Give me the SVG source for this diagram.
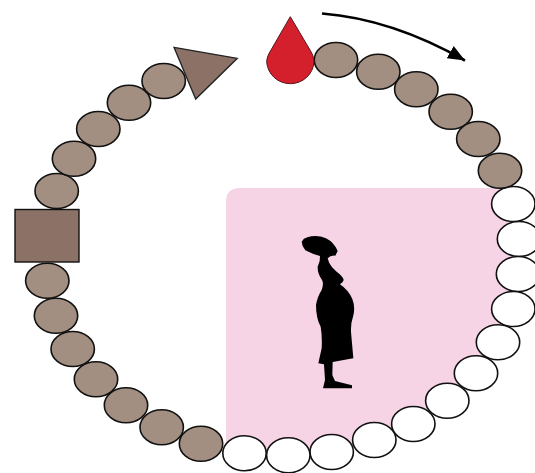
<svg xmlns="http://www.w3.org/2000/svg" width="535" height="473" viewBox="0 0 535 473">
<style>
.b{fill:#a38f81;stroke:#111;stroke-width:1.6}
.w{fill:#fff;stroke:#111;stroke-width:1.6}
</style>
<defs>
<ellipse id="e" rx="21.7" ry="17.5"/>
<marker id="ah" markerUnits="userSpaceOnUse" markerWidth="20" markerHeight="16" refX="17" refY="7" orient="auto"><path d="M0 0L17 7L0 14Z" fill="#000"/></marker>
</defs>
<rect width="535" height="473" fill="#fff"/>
<path id="panel" d="M226 202Q226 188 240 188H505L518 240L514 310L476 373L413 424L331 452L226 454Z" fill="#f7d3e6"/>
<g id="figure"><path transform="translate(280 225) scale(.3333)" fill="#000" d="M65 50Q70 40 82 37Q110 28 138 40Q162 52 173 78L166 92Q152 90 143 100L147 112Q152 125 170 140Q190 155 191 165Q190 172 180 178Q205 195 217 222Q227 248 219 275Q212 295 213 320L220 400L158 411L157 450L165 468L216 481V490H129L135 465L132 418L115 415L125 370Q127 335 122 305Q108 280 108 240Q112 215 125 195Q132 175 126 165Q112 145 113 125L119 108L120 93Q98 88 76 76Q66 65 65 50Z"/></g>
<g id="connectors">
<path id="direction-arrow" d="M322 13.5Q392 19 465 60.5" fill="none" stroke="#000" stroke-width="2.6" marker-end="url(#ah)"/>
</g>
<g id="beads-white">
<use href="#e" class="w" x="513.3" y="204"/>
<use href="#e" class="w" x="519" y="239"/>
<use href="#e" class="w" x="518" y="274"/>
<use href="#e" class="w" x="513.3" y="309"/>
<use href="#e" class="w" x="498" y="342.3"/>
<use href="#e" class="w" x="476" y="373.3"/>
<use href="#e" class="w" x="447.3" y="400.7"/>
<use href="#e" class="w" x="413.3" y="424"/>
<use href="#e" class="w" x="374.3" y="440"/>
<use href="#e" class="w" x="331.7" y="452"/>
<use href="#e" class="w" x="288.3" y="455.3"/>
<use href="#e" class="w" x="244.5" y="453.3"/>
</g>
<g id="beads-brown">
<use href="#e" class="b" x="336" y="60"/>
<use href="#e" class="b" x="378.3" y="71.7"/>
<use href="#e" class="b" x="416.3" y="89.3"/>
<use href="#e" class="b" x="450.7" y="111.7"/>
<use href="#e" class="b" x="478.3" y="139"/>
<use href="#e" class="b" x="500" y="170.7"/>
<use href="#e" class="b" x="201" y="443.7"/>
<use href="#e" class="b" x="161.7" y="427.3"/>
<use href="#e" class="b" x="126" y="405.3"/>
<use href="#e" class="b" x="96" y="379.3"/>
<use href="#e" class="b" x="72.7" y="349"/>
<use href="#e" class="b" x="56" y="315.7"/>
<use href="#e" class="b" x="47.3" y="280.7"/>
<use href="#e" class="b" x="56.7" y="191"/>
<use href="#e" class="b" x="74" y="158.7"/>
<use href="#e" class="b" x="98.3" y="129"/>
<use href="#e" class="b" x="129" y="102.7"/>
<use href="#e" class="b" x="163.7" y="81"/>
</g>
<g id="square"><rect x="15" y="209.5" width="64" height="52.5" fill="#8b7166" stroke="#111" stroke-width="1.4"/></g>
<g id="triangle"><path d="M174 47.3L237.3 58.3L195.7 99Z" fill="#8b7166" stroke="#222" stroke-width="1.3"/></g>
<g id="drop"><path d="M290.3 16.7L310 50C312.5 54 314 58 314 62A23.7 23.2 0 0 1 266.7 62C266.7 58 268.500 54 271 50Z" fill="#d4202c" stroke="#5a1418" stroke-width="1"/></g>
</svg>
